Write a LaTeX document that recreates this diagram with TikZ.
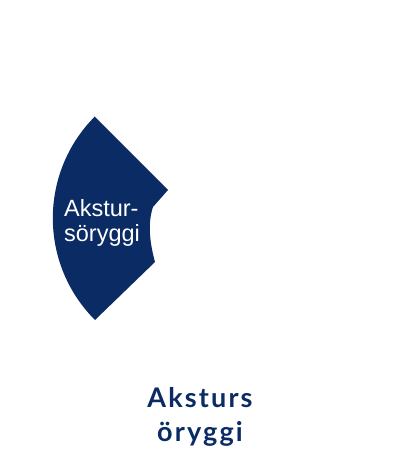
\documentclass[tikz,border=0pt]{standalone}
\usepackage{fontspec}
\setmainfont{Liberation Sans}
\newfontfamily\labelfont[LetterSpace=8]{Lato}
\usepackage{tikz}

\definecolor{navy}{HTML}{0A2B64}

\begin{document}
\begin{tikzpicture}[x=1pt, y=1pt]
    % settings for this picture
    \tikzset{
      segment/.style={fill=navy, draw=none},
      inner label/.style={text=white, align=left, font=\fontsize{23.5}{25}\selectfont},
      caption label/.style={text=navy, align=center, font=\labelfont\bfseries\fontsize{27}{34}\selectfont},
    }

    \useasboundingbox (0,0) rectangle (400,450);

    % wheel segment
    \coordinate (top) at (95,333);
    \coordinate (tip) at (168,260);
    \coordinate (notch) at (153,243);
    \coordinate (foot) at (155,188);
    \coordinate (bottom) at (95,130);
    \fill[segment] (top) -- (tip) -- (notch)
          .. controls (148,228) and (149,210) .. (foot)
          -- (bottom) arc[start angle=225, end angle=135, radius=144] -- cycle;

    % labels
    \node[inner label] (segtext) at (102,227) {Akstur-\\söryggi};
    \node[caption label] (caption) at (200,33) {Aksturs\\öryggi};

  \end{tikzpicture}
\end{document}
